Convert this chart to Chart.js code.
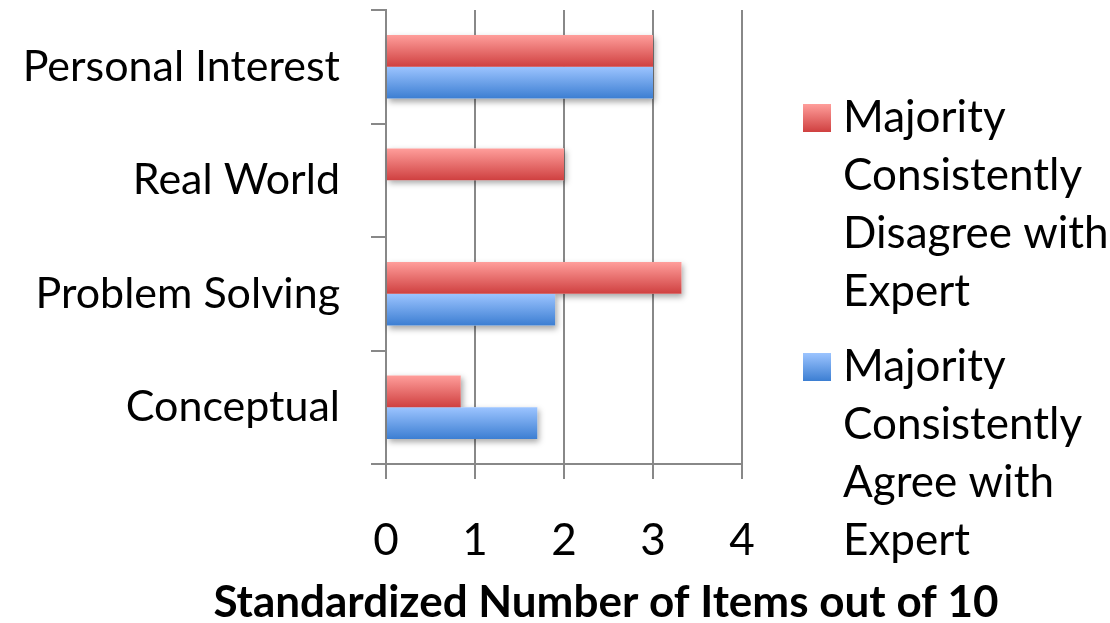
<!DOCTYPE html>
<html>
<head>
<meta charset="utf-8">
<script src="https://cdn.jsdelivr.net/npm/chart.js@4.4.0/dist/chart.umd.min.js"></script>
<style>
  body { margin: 0; background: #fff; }
  #wrap { width: 1110px; height: 623px; }
</style>
</head>
<body>
<div id="wrap"><canvas id="itemsChart"></canvas></div>
<script>
// data
const categories = ['Personal Interest', 'Real World', 'Problem Solving', 'Conceptual'];
const disagreeValues = [3.0, 2.0, 3.32, 0.84];
const agreeValues = [3.0, 0, 1.9, 1.7];
const seriesNames = [
    ['Majority', 'Consistently', 'Disagree with', 'Expert'],
    ['Majority', 'Consistently', 'Agree with', 'Expert']
];
const xTicks = [0, 1, 2, 3, 4];
const axisTitle = 'Standardized Number of Items out of 10';

const FONT = 'Lato';
const gridGrey = '#888888';
const redStops = ['#ff9e9b', '#cf4040'];
const blueStops = ['#9cc4ff', '#3c7ed2'];

// gradient fill + soft shadow under each bar
const barLook = {
    id: 'barLook',
    beforeDatasetsDraw(chart) {
        const ctx = chart.ctx;
        chart.data.datasets.forEach((ds, i) => {
            const meta = chart.getDatasetMeta(i);
            meta.data.forEach(bar => {
                const p = bar.getProps(['x', 'y', 'base', 'height'], true);
                const top = p.y - p.height / 2;
                const g = ctx.createLinearGradient(0, top, 0, top + p.height);
                g.addColorStop(0, ds.stops[0]);
                g.addColorStop(1, ds.stops[1]);
                bar.options.backgroundColor = g;
                const w = Math.abs(p.x - p.base);
                if (w > 0) {
                    ctx.save();
                    ctx.shadowColor = 'rgba(0,0,0,0.35)';
                    ctx.shadowBlur = 6;
                    ctx.shadowOffsetX = 2;
                    ctx.shadowOffsetY = 3;
                    ctx.fillStyle = '#fff';
                    ctx.fillRect(Math.min(p.x, p.base), top, w, p.height);
                    ctx.restore();
                }
            });
        });
    }
};

// wrapped legend on the right + axis title under the whole figure
const sideLegend = {
    id: 'sideLegend',
    afterDraw(chart, args, o) {
        const ctx = chart.ctx;
        let y = o.top;
        chart.data.datasets.forEach((ds, i) => {
            const lines = seriesNames[i];
            const bt = y - o.box / 2;
            const g = ctx.createLinearGradient(0, bt, 0, bt + o.box);
            g.addColorStop(0, ds.stops[0]);
            g.addColorStop(1, ds.stops[1]);
            ctx.save();
            ctx.fillStyle = g;
            ctx.fillRect(o.boxX, bt, o.box, o.box);
            ctx.fillStyle = '#000';
            ctx.font = o.fontSize + 'px ' + FONT;
            ctx.textBaseline = 'middle';
            ctx.textAlign = 'left';
            lines.forEach((t, k) => ctx.fillText(t, o.textX, y + k * o.lineH));
            ctx.restore();
            y += lines.length * o.lineH + o.gap;
        });

        ctx.save();
        ctx.fillStyle = '#000';
        ctx.font = 'bold ' + o.titleSize + 'px ' + FONT;
        ctx.textAlign = 'center';
        ctx.textBaseline = 'alphabetic';
        ctx.fillText(axisTitle, o.titleX, o.titleY);
        ctx.restore();
    }
};

const ctx = document.getElementById('itemsChart').getContext('2d');
const chart = new Chart(ctx, {
    type: 'bar',
    data: {
        labels: categories,
        datasets: [
            {
                label: seriesNames[0].join(' '),
                data: disagreeValues,
                stops: redStops,
                backgroundColor: () => redStops[1],
                borderWidth: 0,
                categoryPercentage: 0.56,
                barPercentage: 1.0
            },
            {
                label: seriesNames[1].join(' '),
                data: agreeValues,
                stops: blueStops,
                backgroundColor: () => blueStops[1],
                borderWidth: 0,
                categoryPercentage: 0.56,
                barPercentage: 1.0
            }
        ]
    },
    options: {
        indexAxis: 'y',
        responsive: true,
        maintainAspectRatio: false,
        animation: false,
        layout: { padding: { top: 10, right: 368, bottom: 20, left: 0 } },
        plugins: {
            legend: { display: false },
            tooltip: { enabled: false },
            sideLegend: {
                top: 118, boxX: 803, box: 28, textX: 843, lineH: 58, gap: 17, fontSize: 44,
                titleSize: 44, titleX: 606, titleY: 617
            }
        },
        scales: {
            x: {
                min: 0,
                max: 4,
                afterBuildTicks: s => { s.ticks = xTicks.map(v => ({ value: v })); },
                afterFit: s => { s.paddingTop = 0; s.paddingBottom = 0; },
                grid: { color: gridGrey, lineWidth: 2, tickLength: 15, drawTicks: true },
                border: { color: gridGrey, width: 2 },
                ticks: {
                    color: '#000',
                    padding: 40,
                    maxRotation: 0,
                    font: { family: FONT, size: 44, lineHeight: 1 }
                }
            },
            y: {
                afterFit: s => { s.width = 386; s.paddingTop = 0; s.paddingBottom = 0; },
                grid: { color: gridGrey, lineWidth: 2, tickLength: 15, drawOnChartArea: false, offset: true },
                border: { color: gridGrey, width: 2 },
                ticks: {
                    color: '#000',
                    padding: 31,
                    font: { family: FONT, size: 43 }
                }
            }
        }
    },
    plugins: [barLook, sideLegend]
});
</script>
</body>
</html>
